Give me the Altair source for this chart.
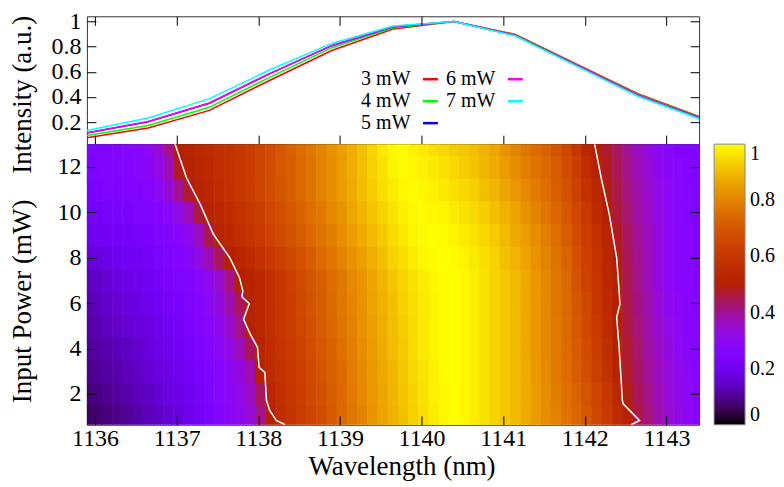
import math
import altair as alt
import pandas as pd

FONT = "Liberation Serif"

# ---------------- top panel: normalised spectra ----------------
wavelengths = [1135.9, 1136.65, 1137.4, 1138.15, 1138.9, 1139.65, 1140.4, 1141.15, 1141.9, 1142.65, 1143.4]
series_names = ["3 mW", "4 mW", "5 mW", "6 mW", "7 mW"]
series_colors = ["#ff0000", "#00ff00", "#0000ff", "#ff00ff", "#00ffff"]
int_3mw = [0.075, 0.152, 0.293, 0.535, 0.770, 0.940, 1.000, 0.898, 0.660, 0.425, 0.245]
int_4mw = [0.093, 0.173, 0.317, 0.560, 0.792, 0.950, 1.000, 0.894, 0.655, 0.420, 0.240]
int_5mw = [0.112, 0.203, 0.350, 0.588, 0.808, 0.958, 1.000, 0.890, 0.651, 0.414, 0.234]
int_6mw = [0.114, 0.205, 0.352, 0.590, 0.810, 0.960, 1.000, 0.889, 0.650, 0.413, 0.233]
int_7mw = [0.133, 0.232, 0.386, 0.618, 0.826, 0.965, 1.000, 0.885, 0.645, 0.405, 0.226]

# ---------------- bottom panel: intensity map ----------------
heat_wl = [1135.900, 1136.025, 1136.150, 1136.275, 1136.400, 1136.525, 1136.650, 1136.775,
           1136.900, 1137.025, 1137.150, 1137.275, 1137.400, 1137.525, 1137.650, 1137.775,
           1137.900, 1138.025, 1138.150, 1138.275, 1138.400, 1138.525, 1138.650, 1138.775,
           1138.900, 1139.025, 1139.150, 1139.275, 1139.400, 1139.525, 1139.650, 1139.775,
           1139.900, 1140.025, 1140.150, 1140.275, 1140.400, 1140.525, 1140.650, 1140.775,
           1140.900, 1141.025, 1141.150, 1141.275, 1141.400, 1141.525, 1141.650, 1141.775,
           1141.900, 1142.025, 1142.150, 1142.275, 1142.400, 1142.525, 1142.650, 1142.775,
           1142.900, 1143.025, 1143.150, 1143.275, 1143.400]
heat_power = [1, 2, 3, 4, 5, 6, 7, 8, 9, 10, 11, 12, 13]
heat_p1 = [0.06, 0.07, 0.08, 0.09, 0.10, 0.115, 0.13, 0.14,
           0.155, 0.17, 0.19, 0.21, 0.235, 0.26, 0.29, 0.31,
           0.34, 0.41, 0.50, 0.56, 0.59, 0.62, 0.645, 0.67,
           0.705, 0.74, 0.775, 0.80, 0.835, 0.86, 0.885, 0.91,
           0.935, 0.955, 0.975, 0.99, 1.00, 0.99, 0.975, 0.96,
           0.94, 0.92, 0.90, 0.875, 0.85, 0.82, 0.795, 0.765,
           0.735, 0.70, 0.655, 0.61, 0.555, 0.51, 0.455, 0.42,
           0.38, 0.345, 0.32, 0.30, 0.28]
heat_p2 = [0.075, 0.085, 0.095, 0.105, 0.115, 0.13, 0.14, 0.155,
           0.17, 0.18, 0.20, 0.22, 0.24, 0.27, 0.295, 0.32,
           0.36, 0.44, 0.525, 0.57, 0.60, 0.625, 0.655, 0.68,
           0.71, 0.745, 0.78, 0.81, 0.84, 0.865, 0.89, 0.915,
           0.94, 0.96, 0.98, 0.99, 1.00, 0.99, 0.975, 0.96,
           0.94, 0.92, 0.90, 0.875, 0.85, 0.82, 0.79, 0.76,
           0.725, 0.69, 0.645, 0.595, 0.54, 0.49, 0.445, 0.41,
           0.37, 0.34, 0.315, 0.295, 0.28]
heat_p3 = [0.09, 0.10, 0.11, 0.12, 0.13, 0.14, 0.155, 0.165,
           0.18, 0.195, 0.21, 0.23, 0.25, 0.275, 0.30, 0.33,
           0.38, 0.50, 0.55, 0.58, 0.605, 0.63, 0.66, 0.69,
           0.72, 0.75, 0.785, 0.815, 0.845, 0.87, 0.895, 0.92,
           0.945, 0.965, 0.98, 0.995, 1.00, 0.99, 0.975, 0.96,
           0.94, 0.92, 0.90, 0.875, 0.845, 0.815, 0.785, 0.75,
           0.715, 0.675, 0.63, 0.58, 0.52, 0.475, 0.435, 0.40,
           0.365, 0.335, 0.31, 0.29, 0.275]
heat_p4 = [0.10, 0.11, 0.12, 0.13, 0.14, 0.15, 0.165, 0.18,
           0.19, 0.205, 0.22, 0.24, 0.265, 0.29, 0.325, 0.37,
           0.44, 0.52, 0.56, 0.59, 0.61, 0.64, 0.67, 0.70,
           0.73, 0.76, 0.79, 0.82, 0.85, 0.875, 0.90, 0.925,
           0.95, 0.97, 0.985, 0.995, 1.00, 0.99, 0.975, 0.96,
           0.94, 0.92, 0.90, 0.87, 0.84, 0.81, 0.78, 0.75,
           0.71, 0.67, 0.62, 0.57, 0.51, 0.47, 0.43, 0.39,
           0.355, 0.33, 0.30, 0.285, 0.27]
heat_p5 = [0.11, 0.12, 0.135, 0.145, 0.155, 0.165, 0.175, 0.19,
           0.20, 0.215, 0.235, 0.255, 0.28, 0.31, 0.35, 0.41,
           0.51, 0.545, 0.57, 0.595, 0.62, 0.65, 0.68, 0.71,
           0.74, 0.77, 0.80, 0.83, 0.855, 0.88, 0.905, 0.93,
           0.95, 0.97, 0.985, 0.995, 1.00, 0.99, 0.975, 0.96,
           0.94, 0.92, 0.90, 0.87, 0.84, 0.81, 0.78, 0.745,
           0.705, 0.66, 0.61, 0.555, 0.50, 0.46, 0.42, 0.385,
           0.35, 0.32, 0.295, 0.28, 0.27]
heat_p6 = [0.12, 0.13, 0.145, 0.155, 0.165, 0.175, 0.19, 0.20,
           0.21, 0.225, 0.245, 0.265, 0.295, 0.33, 0.38, 0.44,
           0.515, 0.545, 0.57, 0.60, 0.625, 0.655, 0.69, 0.715,
           0.745, 0.775, 0.805, 0.83, 0.86, 0.885, 0.91, 0.935,
           0.955, 0.97, 0.985, 0.995, 1.00, 0.99, 0.975, 0.96,
           0.94, 0.92, 0.90, 0.87, 0.84, 0.81, 0.775, 0.74,
           0.70, 0.655, 0.60, 0.55, 0.50, 0.455, 0.415, 0.38,
           0.34, 0.31, 0.29, 0.275, 0.265]
heat_p7 = [0.13, 0.145, 0.155, 0.17, 0.18, 0.19, 0.20, 0.21,
           0.225, 0.24, 0.26, 0.28, 0.31, 0.35, 0.41, 0.50,
           0.52, 0.545, 0.57, 0.60, 0.63, 0.66, 0.695, 0.72,
           0.75, 0.78, 0.81, 0.835, 0.865, 0.89, 0.915, 0.94,
           0.96, 0.975, 0.99, 0.995, 1.00, 0.99, 0.975, 0.96,
           0.94, 0.92, 0.90, 0.87, 0.84, 0.81, 0.775, 0.74,
           0.69, 0.645, 0.595, 0.54, 0.50, 0.45, 0.41, 0.37,
           0.33, 0.30, 0.28, 0.27, 0.26]
heat_p8 = [0.16, 0.17, 0.18, 0.19, 0.20, 0.205, 0.215, 0.225,
           0.24, 0.26, 0.285, 0.32, 0.37, 0.44, 0.50, 0.53,
           0.555, 0.58, 0.605, 0.63, 0.655, 0.685, 0.715, 0.745,
           0.77, 0.80, 0.83, 0.855, 0.88, 0.91, 0.935, 0.955,
           0.975, 0.99, 0.995, 1.00, 0.995, 0.985, 0.97, 0.955,
           0.935, 0.91, 0.89, 0.86, 0.83, 0.80, 0.765, 0.73,
           0.68, 0.635, 0.585, 0.53, 0.49, 0.445, 0.405, 0.37,
           0.33, 0.30, 0.28, 0.27, 0.26]
heat_p9 = [0.19, 0.20, 0.205, 0.21, 0.215, 0.22, 0.23, 0.24,
           0.255, 0.28, 0.31, 0.36, 0.45, 0.52, 0.545, 0.565,
           0.585, 0.61, 0.635, 0.66, 0.685, 0.71, 0.74, 0.765,
           0.79, 0.82, 0.85, 0.875, 0.90, 0.925, 0.95, 0.97,
           0.985, 0.995, 1.00, 0.995, 0.985, 0.975, 0.96, 0.945,
           0.925, 0.90, 0.875, 0.85, 0.82, 0.79, 0.755, 0.715,
           0.67, 0.625, 0.575, 0.525, 0.48, 0.44, 0.40, 0.365,
           0.33, 0.30, 0.28, 0.27, 0.26]
heat_p10 = [0.21, 0.215, 0.22, 0.225, 0.23, 0.24, 0.25, 0.265,
            0.29, 0.325, 0.37, 0.46, 0.52, 0.54, 0.56, 0.58,
            0.60, 0.625, 0.65, 0.675, 0.70, 0.725, 0.755, 0.78,
            0.81, 0.835, 0.865, 0.89, 0.915, 0.94, 0.96, 0.98,
            0.99, 0.995, 0.99, 0.985, 0.975, 0.96, 0.945, 0.93,
            0.91, 0.885, 0.86, 0.83, 0.80, 0.77, 0.735, 0.70,
            0.65, 0.605, 0.555, 0.505, 0.465, 0.43, 0.39, 0.355,
            0.325, 0.295, 0.275, 0.265, 0.255]
heat_p11 = [0.23, 0.235, 0.24, 0.245, 0.25, 0.26, 0.275, 0.30,
            0.34, 0.40, 0.47, 0.52, 0.54, 0.56, 0.58, 0.60,
            0.62, 0.645, 0.67, 0.695, 0.72, 0.745, 0.77, 0.795,
            0.825, 0.85, 0.875, 0.905, 0.93, 0.955, 0.975, 0.99,
            0.995, 0.99, 0.98, 0.97, 0.96, 0.945, 0.93, 0.91,
            0.89, 0.865, 0.84, 0.81, 0.785, 0.755, 0.72, 0.68,
            0.635, 0.585, 0.535, 0.49, 0.455, 0.42, 0.385, 0.35,
            0.32, 0.295, 0.275, 0.265, 0.255]
heat_p12 = [0.24, 0.245, 0.25, 0.255, 0.26, 0.27, 0.285, 0.32,
            0.37, 0.48, 0.52, 0.53, 0.55, 0.565, 0.585, 0.60,
            0.62, 0.645, 0.67, 0.70, 0.72, 0.745, 0.77, 0.80,
            0.825, 0.85, 0.88, 0.905, 0.935, 0.96, 0.985, 0.995,
            0.99, 0.98, 0.97, 0.96, 0.945, 0.93, 0.915, 0.895,
            0.875, 0.85, 0.82, 0.79, 0.765, 0.74, 0.71, 0.665,
            0.62, 0.56, 0.515, 0.48, 0.445, 0.41, 0.37, 0.34,
            0.31, 0.285, 0.27, 0.26, 0.25]
heat_p13 = [0.25, 0.25, 0.255, 0.26, 0.265, 0.28, 0.30, 0.34,
            0.41, 0.50, 0.525, 0.54, 0.555, 0.57, 0.585, 0.60,
            0.62, 0.645, 0.67, 0.70, 0.725, 0.75, 0.775, 0.80,
            0.83, 0.855, 0.88, 0.91, 0.94, 0.97, 0.99, 0.995,
            0.98, 0.97, 0.955, 0.945, 0.93, 0.92, 0.905, 0.885,
            0.865, 0.835, 0.80, 0.775, 0.75, 0.725, 0.695, 0.65,
            0.60, 0.54, 0.50, 0.47, 0.44, 0.40, 0.36, 0.33,
            0.30, 0.275, 0.26, 0.255, 0.25]
heat_rows = [heat_p1, heat_p2, heat_p3, heat_p4, heat_p5, heat_p6, heat_p7,
             heat_p8, heat_p9, heat_p10, heat_p11, heat_p12, heat_p13]
for row in heat_rows:
    assert len(row) == len(heat_wl), len(row)

# half-maximum contour lines (white)
left_contour_power = [13.0, 11.52, 10.34, 9.03, 8.0, 7.12, 6.54, 6.27, 5.98, 5.29, 4.64, 4.05, 3.17, 2.95, 1.71, 1.27, 0.83, 0.64]
left_contour_wl = [1136.98, 1137.12, 1137.29, 1137.45, 1137.65, 1137.77, 1137.81, 1137.80, 1137.89, 1137.82,
                   1137.90, 1137.99, 1138.01, 1138.08, 1138.10, 1138.14, 1138.22, 1138.33]
right_contour_power = [13.0, 11.52, 9.91, 8.0, 6.54, 5.95, 5.37, 4.05, 1.71, 1.56, 1.12, 0.83, 0.64]
right_contour_wl = [1142.12, 1142.20, 1142.30, 1142.39, 1142.42, 1142.43, 1142.39, 1142.42, 1142.46,
                    1142.47, 1142.59, 1142.67, 1142.57]

x_ticks = [1136, 1137, 1138, 1139, 1140, 1141, 1142, 1143]
top_y_ticks = [0.2, 0.4, 0.6, 0.8, 1.0]
bot_y_ticks = [2, 4, 6, 8, 10, 12]
cb_ticks = [0, 0.2, 0.4, 0.6, 0.8, 1.0]

# ---------------- tables ----------------
top_rows = []
for name, vals in zip(series_names, [int_3mw, int_4mw, int_5mw, int_6mw, int_7mw]):
    for wl, v in zip(wavelengths, vals):
        top_rows.append({"series": name, "wl": wl, "I": v})
top_df = pd.DataFrame(top_rows)

heat_records = []
for p, vals in zip(heat_power, heat_rows):
    for wl, v in zip(heat_wl, vals):
        heat_records.append({"P": p, "wl": wl, "v": v})
heat_df = pd.DataFrame(heat_records)

contour_records = []
for p, wl in zip(left_contour_power, left_contour_wl):
    contour_records.append({"side": "L", "P": p, "wl": wl})
for p, wl in zip(right_contour_power, right_contour_wl):
    contour_records.append({"side": "R", "P": p, "wl": wl})
contour_df = pd.DataFrame(contour_records)

# gnuplot default palette (rgbformulae 7,5,15)
pal_domain = [i / 40 for i in range(41)]


def gnuplot_rgb(v):
    r = math.sqrt(v)
    g = v ** 3
    b = max(0.0, math.sin(2 * math.pi * v))
    return "#%02x%02x%02x" % (round(255 * r), round(255 * g), round(255 * b))


pal_colors = [gnuplot_rgb(v) for v in pal_domain]

# ---------------- scales / axes ----------------
xscale = alt.Scale(domain=[1135.9, 1143.4], nice=False, zero=False)
top_yscale = alt.Scale(domain=[0.024, 1.042], nice=False, zero=False)
bot_yscale = alt.Scale(domain=[0.64, 13.0], nice=False, zero=False)

# inward ticks: a negative tick length given as an expression
tick_axis = dict(domain=False, grid=False, ticks=True, tickSize={"expr": "-9"},
                 tickColor="black", tickWidth=1, tickOpacity=1, zindex=2,
                 labelFont=FONT, titleFont=FONT, labelFontSize=24, titleFontSize=27,
                 titleFontWeight="normal", labelColor="black", titleColor="black")

top_lines = alt.Chart(top_df).mark_line(strokeWidth=1.5, clip=True).encode(
    x=alt.X("wl:Q", scale=xscale,
            axis=alt.Axis(orient="bottom", values=x_ticks, labels=False, title=None, **tick_axis)),
    y=alt.Y("I:Q", scale=top_yscale,
            axis=alt.Axis(orient="left", values=top_y_ticks, format=".1~f", labelPadding=15,
                          title="Intensity (a.u.)", titleX=-56, titleY=78,
                          titleBaseline="alphabetic", titleAngle=270, **tick_axis)),
    color=alt.Color("series:N", scale=alt.Scale(domain=series_names, range=series_colors),
                    legend=alt.Legend(orient="none", legendX=334, legendY=53, columns=2, title=None,
                                      symbolType="stroke", symbolSize=225, symbolStrokeWidth=2.5,
                                      labelOffset={"expr": "-30"}, labelAlign="right",
                                      labelFont=FONT, labelFontSize=20,
                                      columnPadding=2, rowPadding=2,
                                      labelColor="black", padding=0)),
)

top_mirror = alt.Chart(top_df).mark_point(opacity=0).encode(
    x=alt.X("wl:Q", scale=xscale,
            axis=alt.Axis(orient="top", values=x_ticks, labels=False, title=None, **tick_axis)),
    y=alt.Y("I:Q", scale=top_yscale,
            axis=alt.Axis(orient="right", values=top_y_ticks, labels=False, title=None, **tick_axis)),
)

top = alt.layer(top_lines, top_mirror).resolve_axis(x="independent", y="independent").properties(
    width=613, height=128)

heat = alt.Chart(heat_df).transform_calculate(
    wl_lo="datum.wl - 0.066", wl_hi="datum.wl + 0.066",
    p_lo="datum.P - 0.52", p_hi="datum.P + 0.52",
).mark_rect(clip=True).encode(
    x=alt.X("wl_lo:Q", scale=xscale,
            axis=alt.Axis(orient="bottom", values=x_ticks, format="d", labelPadding=11,
                          title="Wavelength (nm)", titleX=315, titleY=50,
                          titleBaseline="alphabetic", **tick_axis)),
    x2="wl_hi:Q",
    y=alt.Y("p_lo:Q", scale=bot_yscale,
            axis=alt.Axis(orient="left", values=bot_y_ticks, format="d", labelPadding=15,
                          title="Input Power (mW)", titleX=-56, titleY=157,
                          titleBaseline="alphabetic", titleAngle=270, **tick_axis)),
    y2="p_hi:Q",
    color=alt.Color("v:Q", scale=alt.Scale(domain=pal_domain, range=pal_colors, interpolate="rgb"),
                    legend=alt.Legend(orient="none", legendX=628, legendY=0, padding=0, title=None,
                                      direction="vertical", gradientLength=281, gradientThickness=31,
                                      values=cb_ticks, format=".1~f", labelFont=FONT, labelFontSize=20,
                                      labelOffset=5, labelColor="black",
                                      gradientStrokeColor="#888888", gradientStrokeWidth=1)),
)

contour = alt.Chart(contour_df).mark_line(color="white", strokeWidth=1.5, clip=True).encode(
    x=alt.X("wl:Q", scale=xscale, axis=None),
    y=alt.Y("P:Q", scale=bot_yscale, axis=None),
    detail="side:N",
    order=alt.Order("P:Q"),
)

bot_mirror = alt.Chart(contour_df).mark_point(opacity=0).encode(
    x=alt.X("wl:Q", scale=xscale, axis=None),
    y=alt.Y("P:Q", scale=bot_yscale,
            axis=alt.Axis(orient="right", values=bot_y_ticks, labels=False, title=None, **tick_axis)),
)

bottom = alt.layer(heat, contour, bot_mirror).resolve_axis(x="independent", y="independent").properties(
    width=613, height=281)

chart = alt.vconcat(top, bottom, spacing=0, bounds="flush").resolve_scale(
    color="independent", y="independent", x="shared"
).resolve_legend(color="independent").properties(
    padding={"left": 0, "top": 0, "right": 0, "bottom": 0}, background="white"
).configure_view(stroke="#333333", strokeWidth=1)

chart.save("out.html", embed_options={"renderer": "svg", "actions": False})
